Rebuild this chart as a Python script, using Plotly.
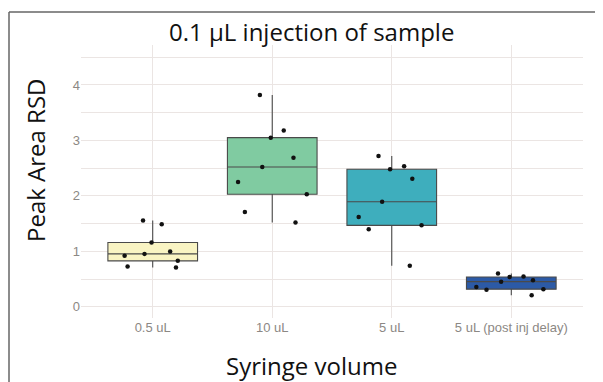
import plotly.graph_objects as go

categories = ["0.5 uL", "10 uL", "5 uL", "5 uL (post inj delay)"]
rsd_05 = [1.555, 1.49, 1.16, 1.0, 0.92, 0.83, 0.955, 0.73, 0.71]
rsd_10 = [3.82, 3.18, 3.05, 2.69, 2.52, 2.25, 2.03, 1.71, 1.52]
rsd_5 = [2.72, 2.535, 2.48, 2.31, 1.895, 1.62, 1.47, 1.40, 0.74]
rsd_5post = [0.55, 0.60, 0.54, 0.48, 0.455, 0.36, 0.32, 0.31, 0.21]
series = [rsd_05, rsd_10, rsd_5, rsd_5post]
fills = ["#f9f4c3", "#80cba1", "#3eaebd", "#2c5aa6"]
yticks = [0, 1, 2, 3, 4]

# the page body adds an 8px offset; targets below are in page pixels minus 8
OFF = 8
W, H = 603, 382
L, T = 81 - OFF, 45 - OFF
R = W - (583 - OFF)
B = H - (318 - OFF)
pw, ph = W - L - R, H - T - B


def px_x(x):
    return (x - OFF - L) / pw


def px_y(y):
    return 1 - (y - OFF - T) / ph


fig = go.Figure()
for cat, vals, fc in zip(categories, series, fills):
    fig.add_trace(go.Box(
        x=[cat] * len(vals), y=vals, name=cat,
        fillcolor=fc, line=dict(color="#4a4a4a", width=1.1),
        boxpoints="all", jitter=1, pointpos=0, width=0.75, whiskerwidth=0,
        marker=dict(color="#111111", size=4.5, line=dict(width=0)),
        quartilemethod="inclusive", showlegend=False,
    ))

grid = "#ebe5e3"
tfont = dict(family="Liberation Sans Narrow, Liberation Sans", size=13, color="#8c8884")
big = dict(family="Open Sans", size=24, color="#111111")
fig.update_layout(
    width=W, height=H,
    margin=dict(l=L, r=R, t=T, b=B),
    paper_bgcolor="white", plot_bgcolor="white",
    boxmode="overlay",
    xaxis=dict(type="category", categoryorder="array", categoryarray=categories,
               range=[-0.6, 3.6], showgrid=True, gridcolor=grid, gridwidth=1,
               zeroline=False, showline=False, ticks="", tickfont=tfont),
    yaxis=dict(range=[-0.2, 4.72], tickvals=yticks, showgrid=True, gridcolor=grid, gridwidth=1,
               minor=dict(dtick=0.5, showgrid=True, gridcolor=grid, gridwidth=1),
               zeroline=False, showline=False, ticks="", tickfont=tfont),
    annotations=[
        dict(text="0.1 µL injection of sample", xref="paper", yref="paper",
             x=px_x(311), y=px_y(32), xanchor="center", yanchor="middle",
             showarrow=False, font=big),
        dict(text="Syringe volume", xref="paper", yref="paper",
             x=px_x(311), y=px_y(365), xanchor="center", yanchor="middle",
             showarrow=False, font=big),
        dict(text="Peak Area RSD", xref="paper", yref="paper", textangle=-90,
             x=px_x(35), y=px_y(160), xanchor="center", yanchor="middle",
             showarrow=False, font=big),
    ],
    shapes=[
        dict(type="line", xref="paper", yref="paper", x0=px_x(9), x1=px_x(W + 10),
             y0=px_y(12), y1=px_y(12), line=dict(color="#666666", width=1.5)),
        dict(type="line", xref="paper", yref="paper", x0=px_x(9), x1=px_x(9),
             y0=px_y(12), y1=px_y(H + 10), line=dict(color="#666666", width=1.5)),
    ],
)

fig.write_html("out.html")
